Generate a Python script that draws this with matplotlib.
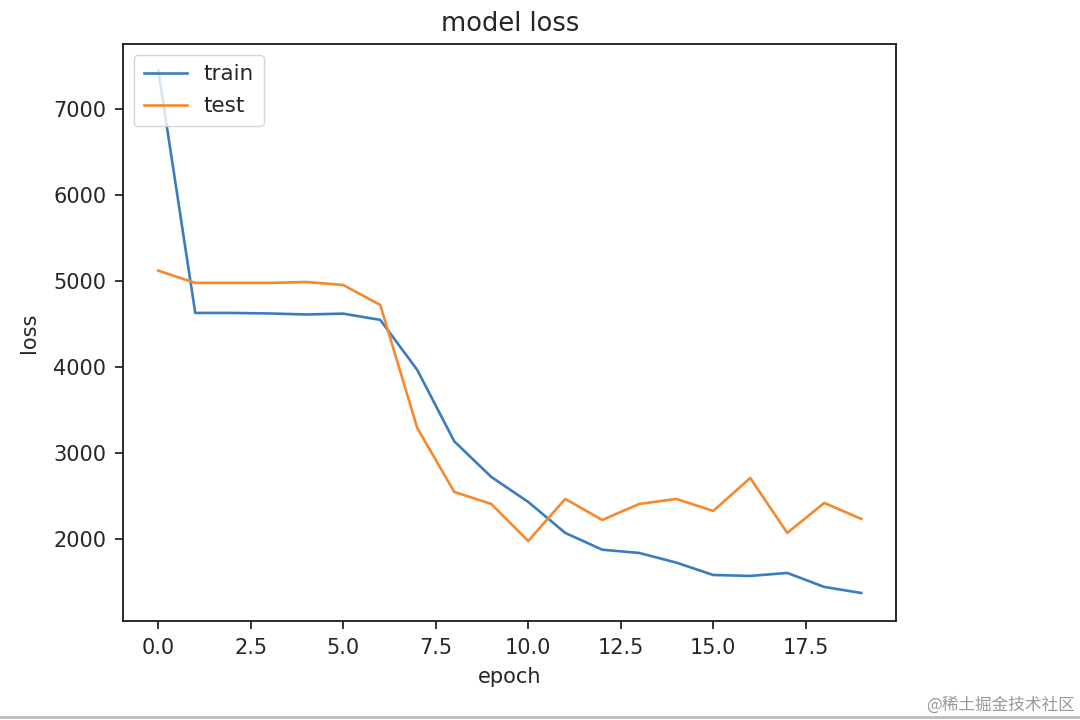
import matplotlib
matplotlib.use("Agg")
import matplotlib.pyplot as plt

epochs = list(range(20))
train_loss = [7450, 4628, 4628, 4622, 4610, 4620, 4547, 3965, 3135, 2721,
              2430, 2070, 1875, 1837, 1725, 1581, 1570, 1605, 1442, 1372]
test_loss = [5120, 4977, 4977, 4977, 4988, 4953, 4721, 3291, 2547, 2407,
             1977, 2465, 2221, 2407, 2465, 2326, 2709, 2070, 2419, 2233]

txt = "#262626"
plt.rcParams["text.color"] = txt
plt.rcParams["axes.labelcolor"] = txt
plt.rcParams["xtick.color"] = txt
plt.rcParams["ytick.color"] = txt

fig = plt.figure(figsize=(10.8, 7.2), dpi=100)
ax = fig.add_axes([0.114, 0.1375, 0.716, 0.8015])
ax.plot(epochs, train_loss, color="#3a7dbf", linewidth=1.9, label="train")
ax.plot(epochs, test_loss, color="#f5892e", linewidth=1.9, label="test")
ax.set_xlim(-0.95, 19.95)
ax.set_ylim(1046, 7756)
ax.set_title("model loss", fontsize=18.5, pad=9)
ax.set_xlabel("epoch", fontsize=15, labelpad=7)
ax.set_ylabel("loss", fontsize=15, labelpad=10)
ax.tick_params(labelsize=15, width=1.3, length=6, pad=6)
for s in ax.spines.values():
    s.set_linewidth(1.3)
    s.set_color("#1a1a1a")
ax.legend(loc="upper left", fontsize=15.5, borderaxespad=0.5, handlelength=2.0,
          handletextpad=0.8, borderpad=0.45, labelspacing=0.55)

fig.text(0.995, 0.021, "@稀土掘金技术社区", ha="right", va="center", fontsize=12,
         color="#999999", family=["Noto Sans CJK SC", "DejaVu Sans"])
fig.add_artist(plt.Line2D([0, 1], [0.004, 0.004], transform=fig.transFigure,
                          color="#bbbbbb", linewidth=2))
fig.savefig("out.png", dpi=100)
